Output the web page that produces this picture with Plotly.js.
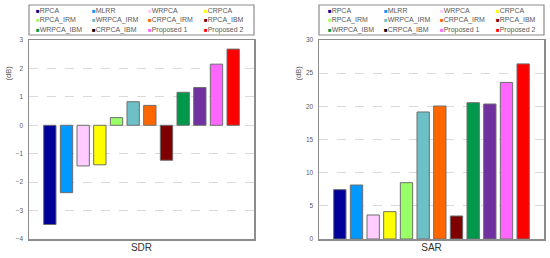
<!DOCTYPE html>
<html>
<head>
<meta charset="utf-8">
<script src="https://cdn.plot.ly/plotly-3.0.1.min.js"></script>
<style>body{margin:0;background:#fff}</style>
</head>
<body>
<div id="chart" style="width:550px;height:258px"></div>
<script>
var methods = ["RPCA", "MLRR", "WRPCA", "CRPCA", "RPCA_IRM", "WRPCA_IRM", "CRPCA_IRM",
               "RPCA_IBM", "WRPCA_IBM", "CRPCA_IBM", "Proposed 1", "Proposed 2"];
var sdr = [-3.49, -2.37, -1.43, -1.39, 0.27, 0.83, 0.70, -1.23, 1.16, 1.33, 2.15, 2.68];
var sar = [7.44, 8.14, 3.62, 4.12, 8.49, 19.15, 20.05, 3.47, 20.55, 20.35, 23.6, 26.4];
var barColors = ["#000099", "#0099FF", "#FFCCFF", "#FFFF00", "#99FF66", "#6CC0C6",
                 "#FF6600", "#800000", "#00994C", "#7030A0", "#FF66FF", "#FF0000"];
var legendColors = ["#000099", "#0099FF", "#FFCCFF", "#FFFF00", "#99FF66", "#6CC0C6",
                    "#FF6600", "#800000", "#00994C", "#000000", "#FF66FF", "#FF0000"];

var W = 550, H = 258;
var font = "Liberation Sans, Arial, sans-serif";

var trace1 = {
  x: methods, y: sdr, type: "bar", xaxis: "x", yaxis: "y",
  marker: {color: barColors, line: {color: "#6e6e6e", width: 1}},
  hoverinfo: "x+y", showlegend: false
};
var trace2 = {
  x: methods, y: sar, type: "bar", xaxis: "x2", yaxis: "y2",
  marker: {color: barColors, line: {color: "#6e6e6e", width: 1}},
  hoverinfo: "x+y", showlegend: false
};

function xAxis(dom, title) {
  return {
    domain: dom, type: "category", range: [-1.25, 12.25],
    showticklabels: false, ticks: "", showgrid: false, zeroline: false,
    showline: true, mirror: true, linecolor: "#8c8c8c", linewidth: 1.5,
    title: {text: title, font: {size: 10, color: "#333", family: font}, standoff: 4},
    fixedrange: true
  };
}
function yAxis(anchor, range, dtick) {
  return {
    anchor: anchor, domain: [19 / H, 218 / H], range: range, dtick: dtick,
    ticks: "", showline: true, mirror: true, linecolor: "#8c8c8c", linewidth: 1.5,
    showgrid: true, gridcolor: "#d9d9d9", griddash: "dash", gridwidth: 1,
    zeroline: false, tickfont: {size: 6.5, color: "#595959", family: font},
    ticklabelstandoff: 3, fixedrange: true
  };
}

var dom1 = [29 / W, 254 / W], dom2 = [319 / W, 544 / W];

// legend boxes built from the method names and colours
var annotations = [], shapes = [];
[dom1, dom2].forEach(function (dom, k) {
  var left = dom[0] * W;
  shapes.push({type: "rect", xref: "paper", yref: "paper",
    x0: dom[0], x1: dom[1], y0: 1 - 35 / H, y1: 1 - 5 / H,
    line: {color: "#8c8c8c", width: 1.2}, fillcolor: "rgba(0,0,0,0)"});
  methods.forEach(function (m, i) {
    var col = i % 4, row = Math.floor(i / 4);
    annotations.push({
      xref: "paper", yref: "paper", showarrow: false,
      x: (left + 5 + (k ? 2 : 0) + col * 56) / W, y: 1 - (11 + row * 9.3) / H,
      xanchor: "left", yanchor: "middle",
      text: '<span style="color:' + legendColors[i] + ';font-size:6px">■</span>' + m,
      font: {size: 7, color: "#595959", family: font}
    });
  });
  annotations.push({
    xref: "paper", yref: "paper", showarrow: false, textangle: -90,
    x: (k ? 297.5 : 7.5) / W, y: 1 - 73 / H, xanchor: "center", yanchor: "middle",
    text: "(dB)", font: {size: 7.5, color: "#595959", family: font}
  });
});

var layout = {
  width: W, height: H,
  margin: {l: 0, r: 0, t: 0, b: 0},
  paper_bgcolor: "#fff", plot_bgcolor: "#fff",
  bargap: 0.26,
  font: {family: font},
  xaxis: xAxis(dom1, "SDR"),
  yaxis: yAxis("x", [-4, 3], 1),
  xaxis2: xAxis(dom2, "SAR"),
  yaxis2: yAxis("x2", [0, 30], 5),
  annotations: annotations,
  shapes: shapes
};

Plotly.newPlot("chart", [trace1, trace2], layout, {displayModeBar: false, staticPlot: true});
</script>
</body>
</html>
